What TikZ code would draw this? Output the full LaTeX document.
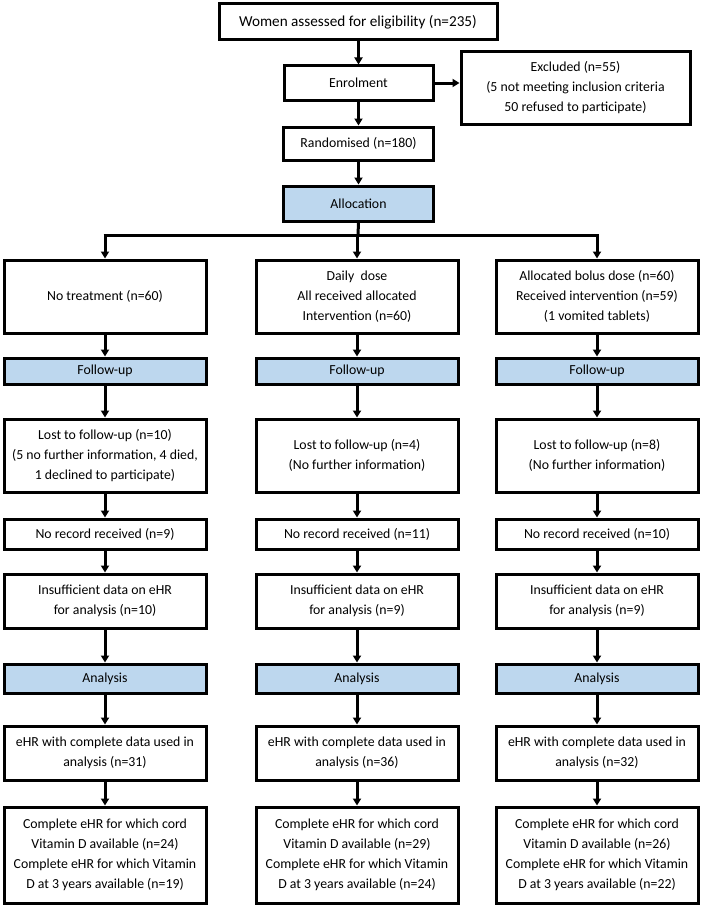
\documentclass[tikz,border=0pt]{standalone}
\usepackage{fontspec}
\setmainfont{Carlito}
\usetikzlibrary{arrows.meta,calc}
\definecolor{phase}{RGB}{189,215,238}
\begin{document}
\begin{tikzpicture}[x=1pt,y=-1pt,
  txt/.style={font=\fontsize{13.8}{20}\selectfont,align=center},
  box/.style={txt,draw=black,line width=3pt,fill=white,inner sep=1pt},
  phasebox/.style={box,fill=phase},
  arr/.style={line width=3pt,-{Triangle[width=8pt,length=7pt]}},
  ln/.style={line width=3pt}]
\useasboundingbox (0,0) rectangle (705,907);
\node[box,font=\fontsize{15.2}{20}\selectfont,minimum width=278,minimum height=36] (women) at (358,22) {Women assessed for eligibility (n=235)};
\node[box,minimum width=149,minimum height=34] (enrol) at (358.5,83) {Enrolment};
\node[box,minimum width=229,minimum height=72] (excl) at (575.5,88) {Excluded (n=55)\\(5 not meeting inclusion criteria\\50 refused to participate)};
\node[box,minimum width=150,minimum height=33] (rand) at (358.5,143.5) {Randomised (n=180)};
\node[phasebox,minimum width=150,minimum height=35] (alloc) at (358.5,203.5) {Allocation};

\foreach \c/\x in {a/105,b/357,c/597}{
  \node[phasebox,minimum width=202,minimum height=26] (fu\c) at (\x,371) {Follow-up};
  \node[box,minimum width=202,minimum height=30] (nr\c) at (\x,534) {};
  \node[box,minimum width=202,minimum height=54] (in\c) at (\x,601) {};
  \node[phasebox,minimum width=202,minimum height=29] (an\c) at (\x,678.5) {Analysis};
  \node[box,minimum width=202,minimum height=54] (eh\c) at (\x,753) {};
  \node[box,minimum width=202,minimum height=96] (co\c) at (\x,855) {};
}
\node[box,minimum width=202,minimum height=73] (tra) at (105,296.5) {No treatment (n=60)};
\node[box,minimum width=202,minimum height=73] (trb) at (357,296.5) {Daily\ \ dose\\All received allocated\\Intervention (n=60)};
\node[box,minimum width=202,minimum height=73] (trc) at (597,296.5) {Allocated bolus dose (n=60)\\Received intervention (n=59)\\(1 vomited tablets)};
\node[box,minimum width=202,minimum height=73] (loa) at (105,455.5) {Lost to follow-up (n=10)\\(5 no further information, 4 died,\\1 declined to participate)};
\node[box,minimum width=202,minimum height=73] (lob) at (357,455.5) {Lost to follow-up (n=4)\\(No further information)};
\node[box,minimum width=202,minimum height=73] (loc) at (597,455.5) {Lost to follow-up (n=8)\\(No further information)};

\node[txt] (tnra) at (nra) {No record received (n=9)};
\node[txt] (tnrb) at (nrb) {No record received (n=11)};
\node[txt] (tnrc) at (nrc) {No record received (n=10)};
\node[txt] (tina) at (ina) {Insufficient data on eHR\\for analysis (n=10)};
\node[txt] (tinb) at (inb) {Insufficient data on eHR\\for analysis (n=9)};
\node[txt] (tinc) at (inc) {Insufficient data on eHR\\for analysis (n=9)};
\node[txt] (teha) at (eha) {eHR with complete data used in\\analysis (n=31)};
\node[txt] (tehb) at (ehb) {eHR with complete data used in\\analysis (n=36)};
\node[txt] (tehc) at (ehc) {eHR with complete data used in\\analysis (n=32)};
\node[txt] (tcoa) at (coa) {Complete eHR for which cord\\Vitamin D available (n=24)\\Complete eHR for which Vitamin\\D at 3 years available (n=19)};
\node[txt] (tcob) at (cob) {Complete eHR for which cord\\Vitamin D available (n=29)\\Complete eHR for which Vitamin\\D at 3 years available (n=24)};
\node[txt] (tcoc) at (coc) {Complete eHR for which cord\\Vitamin D available (n=26)\\Complete eHR for which Vitamin\\D at 3 years available (n=22)};

\draw[arr] (enrol.north |- women.south) -- (enrol.north);
\draw[arr] (enrol.east) -- (excl.west |- enrol.east);
\draw[arr] (enrol) -- (rand);
\draw[arr] (rand) -- (alloc);
\coordinate (split) at (358,235);
\draw[ln] (alloc.south) -- (split);
\draw[ln] ([xshift=-1.5pt]split -| tra.north) -- ([xshift=1.5pt]split -| trc.north);
\draw[arr] (split -| tra.north) -- (tra.north);
\draw[arr] (split -| trb.north) -- (trb.north);
\draw[arr] (split -| trc.north) -- (trc.north);
\foreach \c in {a,b,c}{
  \draw[arr] (tr\c) -- (fu\c);
  \draw[arr] (fu\c) -- (lo\c);
  \draw[arr] (lo\c) -- (nr\c);
  \draw[arr] (nr\c) -- (in\c);
  \draw[arr] (in\c) -- (an\c);
  \draw[arr] (an\c) -- (eh\c);
  \draw[arr] (eh\c) -- (co\c);
}
\end{tikzpicture}
\end{document}
